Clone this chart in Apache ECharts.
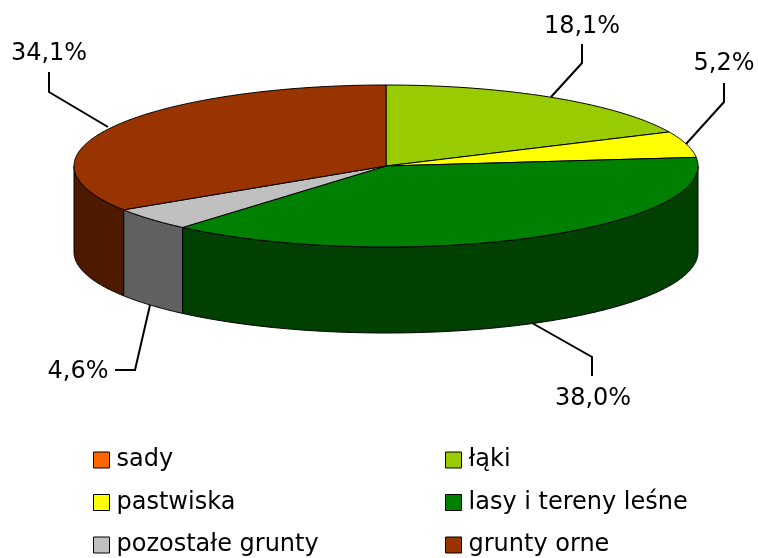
<!DOCTYPE html>
<html>
<head>
<meta charset="utf-8">
<style>html,body{margin:0;padding:0;background:#fff}#chart{width:758px;height:558px}</style>
<script src="https://cdn.jsdelivr.net/npm/echarts@6/dist/echarts.min.js"></script>
</head>
<body>
<div id="chart"></div>
<script>
var categories = ['sady', 'łąki', 'pastwiska', 'lasy i tereny leśne', 'pozostałe grunty', 'grunty orne'];
var values = [0, 18.1, 5.2, 38.0, 4.6, 34.1];
var topColors = ['#ff6600', '#99cc00', '#ffff00', '#008000', '#c0c0c0', '#993300'];
var wallColors = ['#803300', '#4d6600', '#808000', '#004000', '#606060', '#4d1a00'];

// pie geometry
var cx = 386, cy = 166, rx = 312, ry = 81, depth = 86;
var font = '"DejaVu Sans", Verdana, sans-serif';
var fontSize = 24;

// leader line + label placement, same order as categories
var labelLayout = [
	null,
	{ line: [[551, 97], [582, 63], [582, 44]], text: [582, 27] },
	{ line: [[686, 144], [724, 102], [724, 83]], text: [724, 64] },
	{ line: [[532, 323], [592, 357], [592, 376]], text: [593, 399] },
	{ line: [[150, 305], [135, 370], [115, 370]], text: [78, 372] },
	{ line: [[108, 127], [49, 92], [49, 72]], text: [49, 54] }
];

var total = values.reduce(function (a, b) { return a + b; }, 0);

function rim(a, down) {
	// a is clockwise from the top of the ellipse
	return [cx + rx * Math.sin(a), cy - ry * Math.cos(a) + (down || 0)];
}

function arc(a0, a1, down) {
	var n = Math.max(2, Math.ceil(Math.abs(a1 - a0) / 0.01));
	var pts = [];
	for (var i = 0; i <= n; i++) {
		pts.push(rim(a0 + (a1 - a0) * i / n, down));
	}
	return pts;
}

function sliceRender(index) {
	var before = values.slice(0, index).reduce(function (a, b) { return a + b; }, 0);
	var a0 = before / total * Math.PI * 2;
	var a1 = (before + values[index]) / total * Math.PI * 2;
	return function () {
		var children = [];
		if (values[index] <= 0) {
			return { type: 'group', children: children };
		}
		// side wall, only the front half of the ellipse shows
		var w0 = Math.max(a0, Math.PI / 2), w1 = Math.min(a1, Math.PI * 1.5);
		if (w1 > w0) {
			children.push({
				type: 'polygon',
				shape: { points: arc(w0, w1, 0).concat(arc(w1, w0, depth)) },
				style: { fill: wallColors[index], stroke: '#000', lineWidth: 1 }
			});
		}
		// top face
		children.push({
			type: 'polygon',
			shape: { points: [[cx, cy]].concat(arc(a0, a1, 0)) },
			style: { fill: topColors[index], stroke: '#000', lineWidth: 1 }
		});
		var lay = labelLayout[index];
		children.push({
			type: 'polyline',
			shape: { points: lay.line },
			style: { fill: null, stroke: '#000', lineWidth: 2 }
		});
		children.push({
			type: 'text',
			x: lay.text[0],
			y: lay.text[1],
			style: {
				text: values[index].toFixed(1).replace('.', ',') + '%',
				fill: '#000',
				font: fontSize + 'px ' + font,
				align: 'center',
				verticalAlign: 'middle'
			}
		});
		return { type: 'group', children: children };
	};
}

var series = categories.map(function (name, i) {
	return {
		name: name,
		type: 'custom',
		coordinateSystem: 'none',
		animation: false,
		silent: true,
		itemStyle: { color: topColors[i] },
		data: [[values[i]]],
		renderItem: sliceRender(i)
	};
});

function legendColumn(names, left) {
	return {
		data: names,
		orient: 'vertical',
		left: left,
		top: 448,
		height: 110,
		padding: 0,
		itemWidth: 16,
		itemHeight: 16,
		itemGap: 18.5,
		icon: 'rect',
		selectedMode: false,
		itemStyle: { borderColor: '#000', borderWidth: 1 },
		textStyle: { color: '#000', fontFamily: font, fontSize: fontSize, padding: [4, 0, 0, 2] }
	};
}

var chart = echarts.init(document.getElementById('chart'));
chart.setOption({
	backgroundColor: '#fff',
	animation: false,
	legend: [
		legendColumn([categories[0], categories[2], categories[4]], 93),
		legendColumn([categories[1], categories[3], categories[5]], 445)
	],
	series: series
});
</script>
</body>
</html>
